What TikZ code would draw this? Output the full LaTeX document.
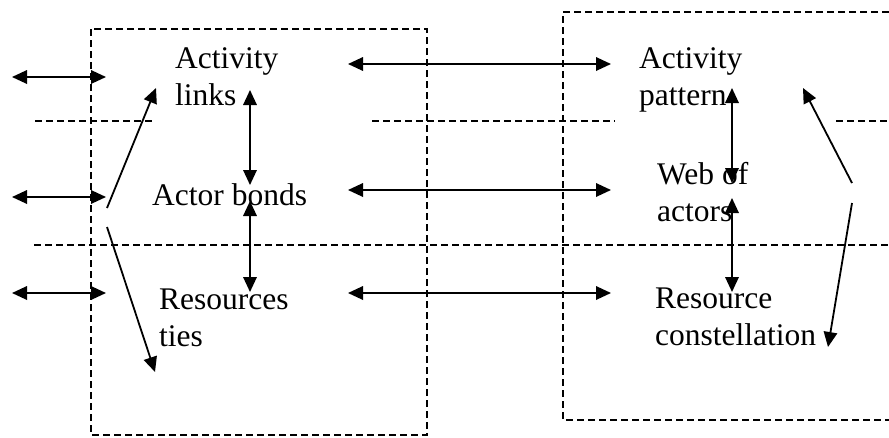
\documentclass[tikz,border=0pt]{standalone}
\usepackage{fontspec}
\setmainfont{Liberation Serif}
\usetikzlibrary{arrows.meta}
\begin{document}
\begin{tikzpicture}[x=1pt,y=-1pt,
  lbl/.style={anchor=base west,inner sep=0pt,align=left,font=\fontsize{31.5}{37}\selectfont},
  dline/.style={draw,dash pattern=on 7pt off 4pt,line width=1.3pt},
  tip/.tip={Triangle[length=15pt,width=13.5pt]},
  arr/.style={-tip,line width=1.8pt},
  darr/.style={tip-tip,line width=1.8pt}]
\useasboundingbox (0,0) rectangle (889,437);
% dashed boxes and separators
\draw[dline] (91,29) rectangle (427,435);
\draw[dline] (889,12) -- (563,12) -- (563,420) -- (889,420);
\draw[dline] (35,121) -- (155,121);
\draw[dline] (372,121) -- (615,121);
\draw[dline] (836,121) -- (889,121);
\draw[dline] (34,245) -- (889,245);
% labels (base anchor = baseline of last line)
\node[lbl] (al) at (175,105) {Activity\\links};
\node[lbl] (ab) at (152,205) {Actor bonds};
\node[lbl] (rt) at (159,346) {Resources\\ties};
\node[lbl] (ap) at (639,105) {Activity\\pattern};
\node[lbl] (wa) at (657,221) {Web of\\actors};
\node[lbl] (rc) at (655,345) {Resource\\constellation};
% arrow end points
\coordinate (l1a) at (12,77);  \coordinate (l1b) at (106,77);
\coordinate (l2a) at (12,197); \coordinate (l2b) at (106,197);
\coordinate (l3a) at (12,293); \coordinate (l3b) at (106,293);
\coordinate (d1a) at (107,208); \coordinate (d1b) at (156,88);
\coordinate (d2a) at (107,227); \coordinate (d2b) at (155,372);
\coordinate (v1a) at (250,90);  \coordinate (v1b) at (250,185);
\coordinate (v2a) at (250,201); \coordinate (v2b) at (250,292);
\coordinate (m1a) at (348,64);  \coordinate (m1b) at (611,64);
\coordinate (m2a) at (348,190); \coordinate (m2b) at (611,190);
\coordinate (m3a) at (348,293); \coordinate (m3b) at (611,293);
\coordinate (w1a) at (732,88);  \coordinate (w1b) at (732,183);
\coordinate (w2a) at (732,198); \coordinate (w2b) at (732,292);
\coordinate (r1a) at (852,183); \coordinate (r1b) at (803,88);
\coordinate (r2a) at (852,203); \coordinate (r2b) at (828,347);
% arrows
\draw[darr] (l1a) -- (l1b);
\draw[darr] (l2a) -- (l2b);
\draw[darr] (l3a) -- (l3b);
\draw[arr] (d1a) -- (d1b);
\draw[arr] (d2a) -- (d2b);
\draw[darr] (v1a) -- (v1b);
\draw[darr] (v2a) -- (v2b);
\draw[darr] (m1a) -- (m1b);
\draw[darr] (m2a) -- (m2b);
\draw[darr] (m3a) -- (m3b);
\draw[darr] (w1a) -- (w1b);
\draw[darr] (w2a) -- (w2b);
\draw[arr] (r1a) -- (r1b);
\draw[arr] (r2a) -- (r2b);
\end{tikzpicture}
\end{document}
